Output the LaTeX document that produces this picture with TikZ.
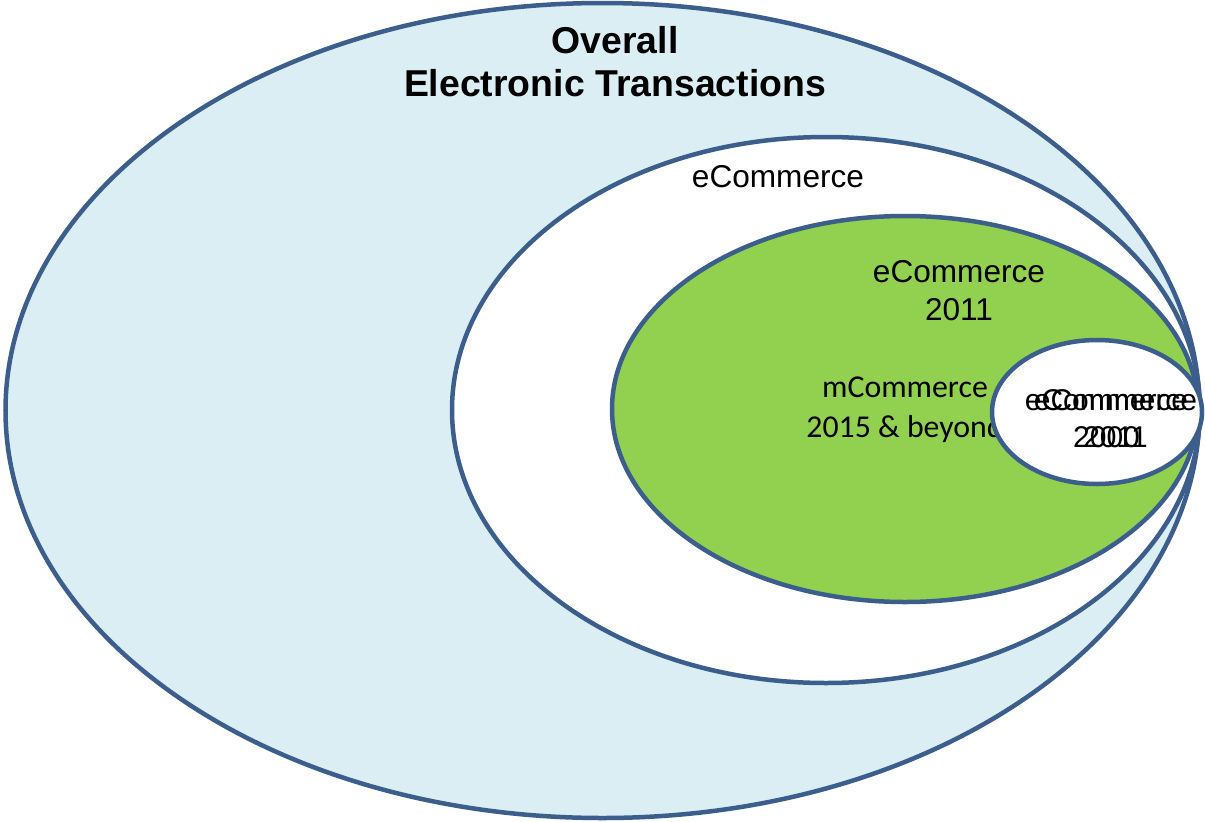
\documentclass[tikz,border=0pt]{standalone}
\usepackage{fontspec}
\setmainfont{Liberation Sans}
\newfontfamily\calfont{Carlito}
\definecolor{edgeblue}{HTML}{3B5E8C}
\definecolor{lightblue}{HTML}{DAEEF3}
\definecolor{limegreen}{HTML}{92D050}
\tikzset{
  ring/.style={draw=edgeblue, line width=4.5pt},
  lbl/.style={inner sep=0pt, align=center, font=\fontsize{31.6}{38}\selectfont},
  smalllbl/.style={lbl, font=\fontsize{30}{37}\selectfont},
}
\begin{document}
\begin{tikzpicture}[x=1pt,y=-1pt]
\useasboundingbox (0,0) rectangle (1205,822);
\fill[white] (0,0) rectangle (1205,822);
\filldraw[ring, fill=lightblue] (602.5,410.5) ellipse [x radius=597, y radius=407.5];
\filldraw[ring, fill=white] (826,410) ellipse [x radius=374, y radius=273];
\filldraw[ring, fill=limegreen] (905,409) ellipse [x radius=293, y radius=193];
\node[lbl, font=\calfont\fontsize{31.8}{40}\selectfont] (mcom) at (905,410) {mCommerce\\2015 \& beyond};
\filldraw[ring, fill=white] (1097,412) ellipse [x radius=105, y radius=72];
\node[lbl, font=\bfseries\fontsize{37.4}{43}\selectfont] (overall) at (615,61.5) {Overall\\Electronic Transactions};
\node[lbl] (ecom) at (778,177) {eCommerce};
\node[lbl] (ecom11) at (959,291) {eCommerce\\2011};
\node[smalllbl] (small1) at (1106.5,418.5) {eCommerce\\2000};
\node[smalllbl] (small2) at (1115.5,418.5) {eCommerce\\2011};
\end{tikzpicture}
\end{document}
